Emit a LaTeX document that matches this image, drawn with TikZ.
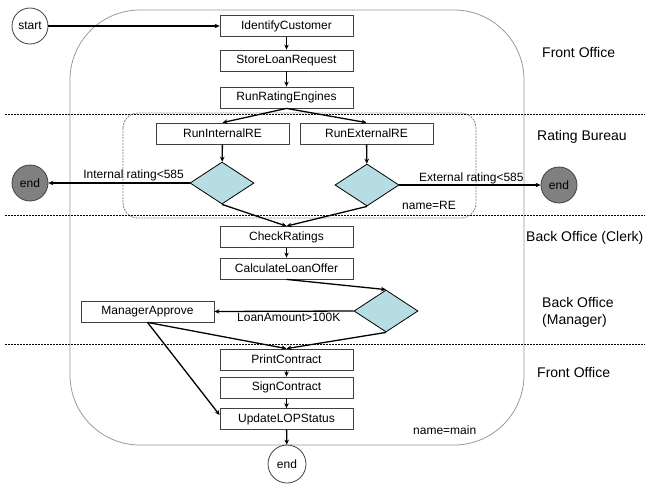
\documentclass[tikz,border=0pt]{standalone}
\usepackage{fontspec}
\setmainfont{Liberation Sans}
\usetikzlibrary{shapes.geometric,arrows.meta,calc}
\definecolor{decfill}{HTML}{B6DDE1}
\definecolor{endfill}{HTML}{808080}
\definecolor{boxline}{HTML}{404040}
\tikzset{
  act/.style={draw=boxline, line width=0.8pt, minimum width=133pt, minimum height=21pt,
    inner sep=0pt, font=\fontsize{12}{14}\selectfont},
  dec/.style={draw=black, line width=0.8pt, fill=decfill, diamond, aspect=1.5,
    minimum width=64pt, minimum height=42pt, inner sep=0pt},
  initnode/.style={draw=boxline, line width=0.8pt, circle, minimum size=36pt, inner sep=0pt,
    font=\fontsize{12}{14}\selectfont},
  finalnode/.style={initnode, fill=endfill},
  flow/.style={line width=1.3pt, -{Stealth[length=5pt,width=4.5pt]}},
  lane/.style={black, line width=0.9pt, dash pattern=on 2pt off 1pt},
  lanelabel/.style={anchor=west, inner sep=0pt, font=\fontsize{14}{17}\selectfont, align=left},
  cond/.style={inner sep=1pt, font=\fontsize{12}{14}\selectfont},
}
\begin{document}
\begin{tikzpicture}[x=1pt, y=-1pt]
\useasboundingbox (0,0) rectangle (645,485);

% swimlane separators
\draw[lane] (5,114) -- (645,114);
\draw[lane] (5,215) -- (645,215);
\draw[lane] (5,344) -- (645,344);

% enclosing process frames
\draw[gray!80, line width=0.8pt, rounded corners=70pt] (70,10) rectangle (524,445);
\draw[gray, line width=0.8pt, dash pattern=on 2pt off 1pt, rounded corners=15pt] (123,113) rectangle (476,218);

% lane labels
\node[lanelabel] (lfo1) at (542,52) {Front Office};
\node[lanelabel] (lrb) at (537,137) {Rating Bureau};
\node[lanelabel] (lbc) at (526,238) {Back Office (Clerk)};
\node[lanelabel] (lbm) at (542,312) {Back Office\\(Manager)};
\node[lanelabel] (lfo2) at (537,372) {Front Office};

% activities
\node[act] (ic) at (286.5,26) {IdentifyCustomer};
\node[act] (slr) at (286.5,60.5) {StoreLoanRequest};
\node[act] (rre) at (286.5,97.5) {RunRatingEngines};
\node[act] (rie) at (222.5,133.5) {RunInternalRE};
\node[act] (ree) at (366.5,133.5) {RunExternalRE};
\node[act] (cr) at (286.5,237) {CheckRatings};
\node[act] (clo) at (286.5,268.5) {CalculateLoanOffer};
\node[act] (ma) at (147.5,311.5) {ManagerApprove};
\node[act] (pc) at (286.5,359.5) {PrintContract};
\node[act] (sc) at (286.5,387.5) {SignContract};
\node[act] (ul) at (286.5,419) {UpdateLOPStatus};

% decisions
\node[dec] (d1) at (222,183) {};
\node[dec] (d2) at (367,185) {};
\node[dec] (d3) at (386,311) {};

% start and end states
\node[initnode] (start) at (30,26) {start};
\node[finalnode] (endl) at (30,183) {end};
\node[finalnode] (endr) at (559,185) {end};
\node[initnode, minimum size=38pt] (endb) at (287,464) {end};

% control flow
\draw[flow] (start) -- (ic);
\draw[flow] (ic) -- (slr);
\draw[flow] (slr) -- (rre);
\draw[flow] (rre.south) -- (rie.north);
\draw[flow] (rre.south) -- (ree.north);
\draw[flow] (rie) -- (d1);
\draw[flow] (ree) -- (d2);
\draw[flow] (d1.west) -- (endl.east);
\draw[flow] (d2.east) -- (endr.west);
\draw[flow] (d1.south) -- (cr.north);
\draw[flow] (d2.south) -- (cr.north);
\draw[flow] (cr) -- (clo);
\draw[flow] (clo.south) -- (d3.north);
\draw[flow] (d3.west) -- (ma.east);
\draw[flow] (d3.south) -- (pc.north);
\draw[flow] (ma.south) -- (pc.north);
\draw[flow] (ma.south) -- ([yshift=4pt]ul.west);
\draw[flow] (pc) -- (sc);
\draw[flow] (sc) -- (ul);
\draw[flow] (ul) -- (endb);

% guard labels
\node[cond, anchor=south east] (g1) at (185,182) {Internal rating<585};
\node[cond, anchor=south west] (g2) at (418,185) {External rating<585};
\node[cond, anchor=north west] (g3) at (236,312) {LoanAmount>100K};

% frame names
\node[cond, anchor=west] (nre) at (401,205) {name=RE};
\node[cond, anchor=west] (nmain) at (412,430) {name=main};
\end{tikzpicture}
\end{document}
